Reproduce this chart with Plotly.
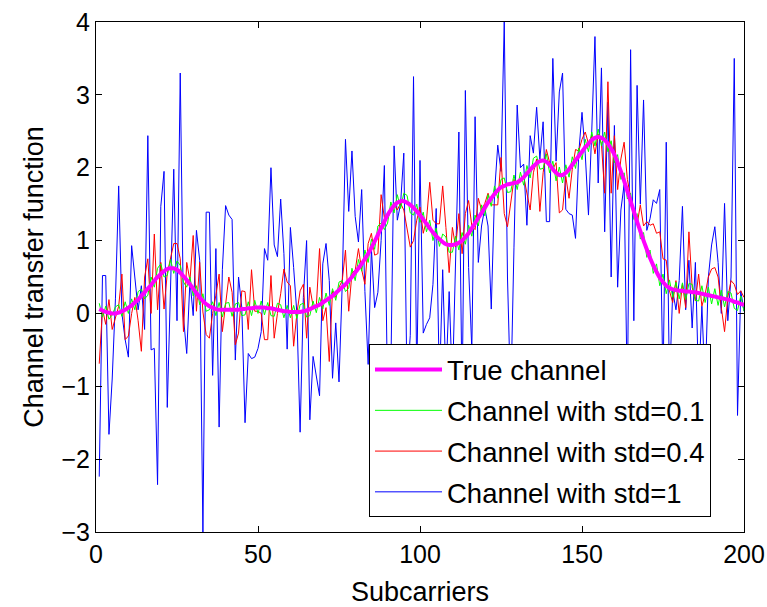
import plotly.graph_objects as go

x = list(range(1, 201))

true_channel = [
    0.06, 0.04, 0.02, 0.01, 0.0, 0.0, 0.01, 0.03, 0.05, 0.08,
    0.11, 0.15, 0.19, 0.24, 0.29, 0.34, 0.39, 0.45, 0.5, 0.54,
    0.58, 0.61, 0.62, 0.62, 0.6, 0.56, 0.51, 0.46, 0.4, 0.34,
    0.28, 0.22, 0.17, 0.13, 0.1, 0.08, 0.06, 0.05, 0.05, 0.05,
    0.05, 0.05, 0.05, 0.05, 0.06, 0.06, 0.07, 0.07, 0.08, 0.08,
    0.08, 0.08, 0.07, 0.07, 0.06, 0.05, 0.04, 0.03, 0.03, 0.02,
    0.02, 0.02, 0.02, 0.03, 0.04, 0.06, 0.08, 0.1, 0.12, 0.15,
    0.18, 0.21, 0.24, 0.28, 0.32, 0.36, 0.4, 0.45, 0.5, 0.56,
    0.62, 0.68, 0.75, 0.82, 0.9, 0.99, 1.08, 1.17, 1.26, 1.35,
    1.42, 1.48, 1.52, 1.54, 1.54, 1.52, 1.49, 1.45, 1.4, 1.35,
    1.29, 1.23, 1.17, 1.11, 1.06, 1.02, 0.98, 0.95, 0.94, 0.94,
    0.95, 0.97, 1.0, 1.05, 1.1, 1.17, 1.24, 1.31, 1.38, 1.45,
    1.52, 1.58, 1.64, 1.69, 1.73, 1.75, 1.77, 1.78, 1.79, 1.8,
    1.83, 1.87, 1.92, 1.97, 2.02, 2.06, 2.09, 2.1, 2.08, 2.04,
    1.98, 1.93, 1.9, 1.9, 1.93, 1.98, 2.04, 2.1, 2.16, 2.22,
    2.28, 2.33, 2.38, 2.41, 2.42, 2.41, 2.38, 2.33, 2.26, 2.18,
    2.07, 1.95, 1.82, 1.68, 1.54, 1.4, 1.26, 1.13, 1.0, 0.88,
    0.76, 0.66, 0.57, 0.49, 0.43, 0.38, 0.35, 0.33, 0.32, 0.31,
    0.31, 0.3, 0.3, 0.29, 0.29, 0.28, 0.27, 0.26, 0.25, 0.24,
    0.23, 0.22, 0.21, 0.2, 0.19, 0.18, 0.16, 0.15, 0.13, 0.12,
]

std01 = [
    0.14, -0.05, 0.1, -0.08, -0.02, 0.09, 0.12, -0.04, 0.16, 0.0,
    0.2, 0.05, 0.3, 0.33, 0.2, 0.25, 0.5, 0.36, 0.62, 0.68,
    0.5, 0.52, 0.74, 0.55, 0.72, 0.66, 0.43, 0.36, 0.5, 0.24,
    0.38, 0.12, 0.27, 0.03, 0.05, 0.16, -0.03, 0.15, -0.05, 0.14,
    0.15, -0.04, 0.13, 0.15, -0.03, -0.02, 0.16, -0.03, 0.18, 0.0,
    0.17, -0.02, 0.15, -0.03, -0.04, 0.14, 0.12, -0.06, 0.11, -0.06,
    0.11, -0.07, 0.12, 0.14, -0.05, -0.03, 0.17, 0.01, 0.22, 0.06,
    0.28, 0.11, 0.34, 0.18, 0.43, 0.45, 0.3, 0.35, 0.62, 0.45,
    0.74, 0.58, 0.87, 0.7, 1.02, 0.88, 1.2, 1.24, 1.15, 1.24,
    1.53, 1.38, 1.63, 1.44, 1.65, 1.62, 1.38, 1.35, 1.5, 1.25,
    1.39, 1.12, 1.28, 1.0, 1.17, 0.92, 1.09, 1.05, 0.84, 0.84,
    1.06, 0.87, 1.11, 0.95, 1.21, 1.06, 1.35, 1.2, 1.49, 1.34,
    1.63, 1.47, 1.75, 1.58, 1.84, 1.86, 1.66, 1.67, 1.9, 1.7,
    1.94, 1.76, 2.03, 1.86, 2.13, 2.16, 1.98, 1.99, 2.19, 1.93,
    2.09, 1.82, 2.01, 1.79, 2.04, 1.87, 2.15, 1.99, 2.27, 2.11,
    2.39, 2.22, 2.49, 2.3, 2.53, 2.3, 2.49, 2.22, 2.37, 2.07,
    2.18, 1.84, 1.93, 1.57, 1.65, 1.29, 1.37, 1.02, 1.11, 0.77,
    0.87, 0.55, 0.68, 0.38, 0.54, 0.27, 0.46, 0.22, 0.43, 0.2,
    0.42, 0.19, 0.41, 0.4, 0.18, 0.17, 0.38, 0.15, 0.36, 0.13,
    0.34, 0.11, 0.32, 0.09, 0.3, 0.28, 0.07, 0.04, 0.24, 0.03,
]

std04 = [
    -0.69, 0.06, -0.15, 0.19, -0.22, -0.05, 0.1, 0.54, -0.36, -0.31,
    0.0, 0.22, -0.1, -0.52, 0.5, 0.75, 0.0, 1.09, 0.05, 0.7,
    0.06, 0.55, 0.75, 0.96, 0.96, 0.75, -0.25, 0.7, 0.45, 1.07,
    0.03, 0.7, 0.02, -0.29, -0.34, 0.0, 0.25, 0.54, -0.25, 0.15,
    0.5, 0.29, -0.43, -0.27, 0.31, 0.3, -0.22, 0.6, 0.03, 0.03,
    0.0, -0.36, -0.36, 0.52, -0.34, 0.0, 0.27, 0.61, 0.43, 0.38,
    -0.45, 0.0, 0.31, 0.4, -0.34, 0.36, 0.1, 0.1, 0.89, -0.1,
    0.08, -0.66, 0.31, 0.22, 0.36, 0.45, 0.87, 0.03, 0.56, 0.59,
    0.89, 0.6, 0.4, 0.96, 1.1, 0.8, 0.82, 1.63, 1.31, 1.31,
    1.42, 1.51, 1.42, 1.51, 1.42, 1.15, 0.91, 1.0, 1.28, 1.46,
    1.1, 1.28, 1.8, 1.28, 1.23, 1.23, 1.75, 1.18, 0.56, 1.18,
    0.91, 1.37, 0.82, 1.37, 1.55, 1.2, 1.15, 1.58, 1.42, 1.51,
    1.65, 1.49, 1.49, 1.49, 2.14, 1.37, 1.19, 1.49, 1.84, 1.77,
    1.81, 1.88, 1.65, 1.42, 1.93, 2.12, 1.4, 1.93, 2.25, 2.07,
    1.98, 2.07, 1.38, 1.42, 1.88, 1.58, 1.98, 2.25, 2.23, 2.39,
    2.49, 2.33, 2.44, 2.19, 2.46, 2.33, 1.65, 3.18, 1.65, 2.44,
    1.7, 2.12, 2.35, 1.84, 1.6, 1.37, 1.22, 1.49, 1.2, 1.26,
    1.21, 1.23, 1.1, 1.12, 0.75, 0.73, 0.31, 0.15, 0.45, 0.0,
    0.4, 0.08, 1.12, 0.36, 0.17, 0.54, 0.1, 0.26, 0.5, 0.61,
    0.63, 0.5, 0.08, -0.25, 0.22, 0.45, 0.4, 0.26, 0.31, 0.22,
]

std1 = [
    -2.24, 0.52, 0.52, -1.66, -0.9, 0.2, 1.75, 0.0, -0.36, -0.6,
    0.93, 0.5, 0.05, 0.38, -0.22, 2.44, -0.5, -0.48, -2.35, 1.47,
    1.95, -1.29, 0.4, 1.98, -0.1, 3.3, -0.05, -0.55, 0.45, -0.03,
    1.14, 0.73, -3.0, 1.39, 1.39, -0.85, 0.89, -1.56, 0.6, 1.48,
    1.35, 1.29, -0.64, 0.5, 0.08, -1.5, -0.55, -0.62, -0.6, -0.48,
    -0.25, 0.89, 0.73, 2.0, 0.94, 0.78, 1.57, 0.82, -0.49, 1.18,
    0.63, 0.0, -1.63, 0.22, 1.0, -1.46, -0.59, -0.85, -1.13, 0.68,
    0.96, 0.45, -0.89, -0.13, -0.94, 0.4, 2.39, 1.4, 2.23, 1.33,
    0.98, 1.7, 0.3, -0.7, 0.89, 0.08, 0.29, 1.0, 2.03, -1.2,
    -0.8, 2.3, 1.28, 1.5, 2.2, -1.0, -0.3, 3.25, -0.9, 2.1,
    -0.27, -0.15, -0.06, 0.4, 1.44, -1.0, 0.6, -0.9, 0.3, -1.0,
    0.9, 2.49, -1.2, 3.06, 0.63, -0.5, 2.7, 0.7, 1.2, 1.45,
    1.2, 0.06, 1.65, 2.31, 1.95, 4.0, 0.5, -1.2, 0.9, 2.86,
    2.0, 2.05, 1.21, 2.44, 2.2, 2.83, 2.12, 2.63, 1.26, 1.26,
    3.5, 2.09, 3.04, 3.3, 1.43, 1.37, 1.35, 1.03, 2.2, 2.76,
    2.19, 1.35, 2.49, 3.8, 1.79, 3.37, 1.12, 2.9, 0.5, 2.58,
    0.36, 1.42, 1.77, -1.2, 3.62, -0.1, 3.13, 1.5, 2.93, 1.14,
    1.3, 1.56, 1.51, 1.7, -1.0, 2.35, -1.0, 0.31, 0.05, 0.45,
    1.47, 0.05, 0.73, -0.2, 0.7, -1.0, 0.1, -1.0, 0.5, 0.94,
    1.19, 0.7, 0.0, 1.51, -0.1, 0.5, 3.5, -1.4, 0.31, 0.03,
]

x_ticks = [0, 50, 100, 150, 200]
y_ticks = [-3, -2, -1, 0, 1, 2, 3, 4]

FONT = "Liberation Sans, Arial, Helvetica, sans-serif"

fig = go.Figure()
fig.add_trace(go.Scatter(x=x, y=std1, mode="lines", name="Channel with std=1",
                         line=dict(color="#0000FF", width=1), legendrank=4, legendgroup="d"))
fig.add_trace(go.Scatter(x=x, y=std04, mode="lines", name="Channel with std=0.4",
                         line=dict(color="#FF0000", width=1), legendrank=3, legendgroup="c"))
fig.add_trace(go.Scatter(x=x, y=std01, mode="lines", name="Channel with std=0.1",
                         line=dict(color="#00FF00", width=1), legendrank=2, legendgroup="b"))
fig.add_trace(go.Scatter(x=x, y=true_channel, mode="lines", name="True channel",
                         line=dict(color="#FF00FF", width=4, shape="spline"), legendrank=1,
                         legendgroup="a"))

axis_common = dict(
    showline=True, linecolor="black", linewidth=1, mirror="ticks",
    ticks="inside", ticklen=6, tickcolor="black", showgrid=False, zeroline=False,
    automargin=False,
    tickfont=dict(family=FONT, size=25, color="black"),
)

fig.update_layout(
    template="none",
    width=767, height=607,
    margin=dict(l=96, r=23, t=22, b=75),
    paper_bgcolor="white", plot_bgcolor="white",
    font=dict(family=FONT, color="black"),
    xaxis=dict(range=[0, 200], tickvals=x_ticks,
               title=dict(text="Subcarriers", font=dict(family=FONT, size=27), standoff=25),
               **axis_common),
    yaxis=dict(range=[-3, 4], tickvals=y_ticks,
               title=dict(text="Channel transfer function", font=dict(family=FONT, size=27), standoff=10),
               **axis_common),
    legend=dict(x=0.4213, y=0.029, xanchor="left", yanchor="bottom",
                bgcolor="white", bordercolor="black", borderwidth=1,
                font=dict(family=FONT, size=27.5, color="black"),
                itemwidth=67, tracegroupgap=2, traceorder="grouped"),
    showlegend=True,
)

fig.write_html("out.html")
